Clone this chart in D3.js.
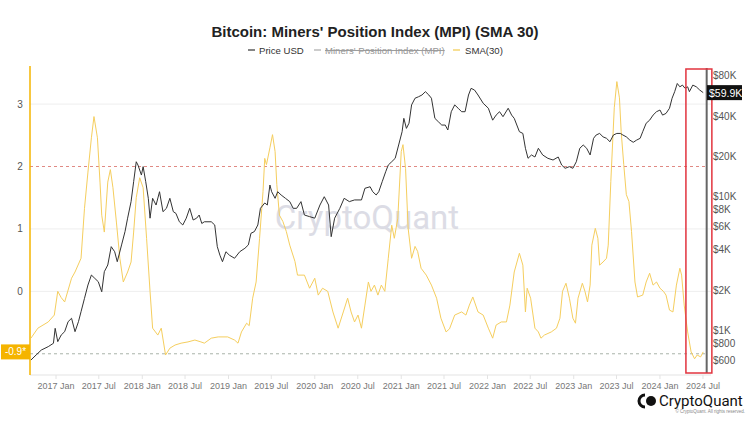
<!DOCTYPE html>
<html><head><meta charset="utf-8">
<script src="https://cdn.jsdelivr.net/npm/d3@7"></script>
<style>body{margin:0;background:#fff;} svg{display:block;font-family:"Liberation Sans",Arial,sans-serif;}</style>
</head><body><svg id="c" width="750" height="422"></svg>
<script>
const chartTitle = "Bitcoin: Miners' Position Index (MPI) (SMA 30)";
const legendLabels = ["Price USD", "Miners' Position Index (MPI)", "SMA(30)"];

// dates as decimal years
const priceDates = [2016.71,2016.77,2016.83,2016.91,2016.97,2016.99,2017.02,2017.06,2017.10,2017.14,2017.18,2017.22,2017.26,2017.29,2017.33,2017.37,2017.41,2017.45,2017.49,2017.53,2017.56,2017.60,2017.64,2017.68,2017.71,2017.76,2017.80,2017.83,2017.87,2017.90,2017.93,2017.95,2017.99,2018.01,2018.04,2018.07,2018.09,2018.12,2018.16,2018.20,2018.24,2018.28,2018.32,2018.36,2018.39,2018.43,2018.47,2018.51,2018.55,2018.59,2018.63,2018.66,2018.69,2018.72,2018.80,2018.84,2018.87,2018.90,2018.93,2018.97,2019.01,2019.07,2019.13,2019.19,2019.23,2019.26,2019.30,2019.34,2019.37,2019.42,2019.45,2019.48,2019.50,2019.54,2019.57,2019.61,2019.66,2019.71,2019.75,2019.79,2019.84,2019.88,2019.94,2020.00,2020.06,2020.11,2020.16,2020.19,2020.23,2020.29,2020.34,2020.40,2020.46,2020.54,2020.58,2020.64,2020.67,2020.71,2020.74,2020.78,2020.82,2020.85,2020.89,2020.93,2020.97,2021.01,2021.03,2021.06,2021.09,2021.12,2021.16,2021.20,2021.24,2021.28,2021.32,2021.35,2021.39,2021.43,2021.47,2021.51,2021.54,2021.58,2021.62,2021.66,2021.70,2021.74,2021.78,2021.81,2021.85,2021.89,2021.95,2022.01,2022.06,2022.10,2022.14,2022.18,2022.24,2022.28,2022.31,2022.37,2022.41,2022.44,2022.47,2022.51,2022.55,2022.59,2022.64,2022.70,2022.76,2022.82,2022.86,2022.90,2022.95,2022.99,2023.03,2023.07,2023.11,2023.15,2023.19,2023.23,2023.26,2023.30,2023.34,2023.38,2023.42,2023.46,2023.50,2023.54,2023.57,2023.61,2023.65,2023.69,2023.73,2023.77,2023.80,2023.84,2023.88,2023.92,2023.96,2024.00,2024.03,2024.07,2024.11,2024.14,2024.17,2024.20,2024.23,2024.26,2024.29,2024.32,2024.34,2024.38,2024.42,2024.46,2024.50];
const priceValues = [603,658,716,759,804,1040,827,927,982,1166,1236,982,1166,1384,1742,2190,2600,2455,2318,1950,2755,3091,4236,3883,3271,4365,5492,6913,9192,12950,18250,17250,14520,16770,12950,9730,6913,9730,8670,10900,7730,8190,9730,7730,7510,6500,6150,6913,8190,6700,6913,7300,6310,6500,6500,6150,4236,3660,3271,3883,3660,3470,3883,4120,4365,5330,5492,6150,8190,8980,8670,12230,10900,9730,10900,10300,9730,9192,8190,8190,9192,7300,7100,6913,8670,10000,8670,5030,6913,8190,9730,9192,9460,9460,11560,11870,10900,10300,10900,12950,15360,17250,18250,19360,24340,30600,38500,32400,35400,48500,54400,55800,57500,60900,57500,54400,38500,36300,34300,34300,31500,43150,48500,45800,43150,43150,57500,64500,62600,57500,49900,45800,37300,40700,43150,39600,45800,40700,38500,30600,29700,23000,19360,20500,19800,23000,20500,19360,18800,19800,17250,16300,16770,16300,18250,23000,24340,23000,20500,27300,28900,29700,28000,27300,25740,28900,29700,29700,28900,28000,26500,25500,26500,27300,30600,35400,37300,40700,43150,44400,40700,41900,45800,54400,60900,70100,66200,68200,64500,66200,60900,68200,66200,62600,59900];

const smaDates = [2016.71,2016.79,2016.91,2016.98,2017.02,2017.06,2017.10,2017.18,2017.22,2017.29,2017.33,2017.37,2017.41,2017.44,2017.48,2017.51,2017.53,2017.56,2017.60,2017.63,2017.66,2017.70,2017.74,2017.78,2017.83,2017.87,2017.90,2017.93,2017.97,2018.01,2018.05,2018.09,2018.12,2018.18,2018.22,2018.27,2018.32,2018.38,2018.45,2018.53,2018.61,2018.68,2018.72,2018.80,2018.88,2018.99,2019.07,2019.11,2019.15,2019.21,2019.24,2019.28,2019.32,2019.36,2019.40,2019.42,2019.44,2019.48,2019.51,2019.54,2019.56,2019.59,2019.63,2019.67,2019.71,2019.77,2019.80,2019.88,2019.94,2020.00,2020.04,2020.09,2020.15,2020.21,2020.27,2020.33,2020.38,2020.42,2020.46,2020.50,2020.54,2020.58,2020.62,2020.65,2020.69,2020.73,2020.77,2020.81,2020.85,2020.89,2020.92,2020.96,2021.00,2021.02,2021.05,2021.08,2021.12,2021.16,2021.19,2021.23,2021.29,2021.35,2021.41,2021.46,2021.52,2021.56,2021.62,2021.70,2021.75,2021.79,2021.83,2021.89,2021.95,2022.01,2022.06,2022.10,2022.16,2022.22,2022.26,2022.31,2022.37,2022.41,2022.44,2022.46,2022.50,2022.55,2022.59,2022.62,2022.66,2022.74,2022.80,2022.84,2022.87,2022.91,2022.95,2022.99,2023.02,2023.05,2023.10,2023.13,2023.16,2023.19,2023.21,2023.25,2023.28,2023.30,2023.34,2023.38,2023.40,2023.43,2023.47,2023.50,2023.53,2023.55,2023.58,2023.61,2023.64,2023.67,2023.71,2023.74,2023.80,2023.84,2023.88,2023.92,2023.96,2024.00,2024.04,2024.07,2024.11,2024.15,2024.19,2024.23,2024.25,2024.28,2024.32,2024.36,2024.40,2024.43,2024.47,2024.50];
const smaValues = [-0.75,-0.59,-0.49,-0.38,0.0,-0.1,-0.17,0.21,0.31,0.53,1.33,1.91,2.46,2.8,2.46,1.75,1.22,0.95,1.75,1.95,1.66,1.11,0.53,0.15,0.31,0.47,0.95,1.5,1.82,1.66,0.85,0.0,-0.59,-0.7,-0.59,-1.02,-0.91,-0.86,-0.83,-0.81,-0.78,-0.81,-0.83,-0.75,-0.73,-0.73,-0.78,-0.83,-0.65,-0.51,-0.55,-0.11,0.15,0.85,1.6,2.13,2.03,2.3,2.51,2.24,1.71,1.22,1.12,0.96,0.74,0.48,0.26,0.26,0.05,0.21,-0.06,0.05,0.0,-0.33,-0.59,-0.33,-0.11,-0.33,-0.49,-0.38,-0.59,-0.22,0.15,0.0,0.1,-0.06,0.1,0.0,0.53,1.06,0.85,1.17,2.24,2.35,1.97,1.01,0.53,0.72,0.64,0.37,0.26,0.1,-0.11,-0.43,-0.65,-0.6,-0.38,-0.33,-0.38,-0.22,-0.09,-0.33,-0.38,-0.59,-0.75,-0.54,-0.49,-0.49,-0.22,0.31,0.61,0.42,-0.33,0.05,-0.11,-0.59,-0.65,-0.75,-0.7,-0.65,-0.59,-0.43,0.0,0.13,-0.11,-0.43,-0.51,-0.11,0.13,0.0,-0.17,0.1,0.74,1.01,0.85,0.42,0.47,0.53,0.74,1.76,2.94,3.36,3.1,2.56,2.03,1.55,1.44,0.96,0.15,-0.09,-0.06,0.15,0.29,0.1,0.15,0.05,0.0,-0.06,-0.3,-0.33,0.1,0.37,0.26,-0.22,-0.65,-0.97,-1.08,-1.02,-1.05,-0.97];

const leftTicks = [0, 1, 2, 3];
const rightTicks = [600, 800, 1000, 2000, 4000, 6000, 8000, 10000, 20000, 40000, 80000];
const rightTickLabels = ["$600","$800","$1K","$2K","$4K","$6K","$8K","$10K","$20K","$40K","$80K"];
const thresholdHigh = 2, thresholdLow = -1;
const lastSmaLabel = "-0.9*";
const lastPriceLabel = "$59.9K";
const highlightRange = [2024.30, 2024.60];
const currentMarker = 2024.54;

function toDate(t){ const y = Math.floor(t); const s = new Date(y,0,1), e = new Date(y+1,0,1); return new Date(+s + (t-y)*(e-s)); }

const svg = d3.select("#c");
const L = 30, R = 711, T = 66, B = 375;

const x = d3.scaleTime().domain([toDate(2016.699), toDate(2024.59)]).range([L, R]);
const yL = d3.scaleLinear().domain([-1.34, 3.61]).range([B, T]);
const yR = d3.scaleLog().domain([466, 94700]).range([B, T]);

// title
svg.append("text").attr("x", 375).attr("y", 37).attr("text-anchor", "middle")
  .attr("font-size", 15).attr("font-weight", "bold").attr("fill", "#222").text(chartTitle);

// legend
const legendPos = [{lx:248, tx:259, c:"#333", tc:"#333"}, {lx:314, tx:325, c:"#aaa", tc:"#999"}, {lx:453, tx:465, c:"#F2C94C", tc:"#333"}];
legendLabels.forEach((lab, i) => {
  const p = legendPos[i];
  svg.append("line").attr("x1", p.lx).attr("x2", p.lx+7).attr("y1", 50).attr("y2", 50).attr("stroke", p.c).attr("stroke-width", 1.2);
  const t = svg.append("text").attr("x", p.tx).attr("y", 53.5).attr("font-size", 9.6).attr("fill", p.tc).text(lab);
  if (i === 1) t.attr("text-decoration", "line-through");
});

// gridlines
svg.append("g").selectAll("line").data(leftTicks.filter(d => d !== thresholdHigh)).join("line")
  .attr("x1", L).attr("x2", R).attr("y1", d => yL(d)).attr("y2", d => yL(d))
  .attr("stroke", "#eeeeee").attr("stroke-width", 1);
// bottom axis line
svg.append("line").attr("x1", L).attr("x2", R).attr("y1", B).attr("y2", B).attr("stroke", "#e3e3e3");

// threshold dashed lines
svg.append("line").attr("x1", L).attr("x2", R-4).attr("y1", yL(thresholdHigh)).attr("y2", yL(thresholdHigh))
  .attr("stroke", "#e08a84").attr("stroke-dasharray", "3,3").attr("stroke-width", 1);
svg.append("line").attr("x1", L).attr("x2", R-4).attr("y1", yL(thresholdLow)).attr("y2", yL(thresholdLow))
  .attr("stroke", "#a9b3a9").attr("stroke-dasharray", "3,3").attr("stroke-width", 1);

// watermark
svg.append("text").attr("x", 367).attr("y", 229).attr("text-anchor", "middle").attr("font-family", "Roboto, 'Open Sans', sans-serif")
  .attr("font-size", 33).attr("fill", "#d6d7e1").attr("opacity", 0.85).text("CryptoQuant");

// x axis labels
const xt = x.ticks(d3.timeMonth.every(6)).filter(d => d >= new Date(2017,0,1));
const xg = svg.append("g");
xg.selectAll("line").data(xt).join("line").attr("x1", d => x(d)).attr("x2", d => x(d)).attr("y1", B).attr("y2", B+4).attr("stroke", "#e3e3e3");
xg.selectAll("text").data(xt).join("text").attr("x", d => x(d)).attr("y", 389).attr("text-anchor", "middle")
  .attr("font-size", 9).attr("fill", "#777").text(d => d3.timeFormat("%Y %b")(d));

// left axis
svg.append("line").attr("x1", L).attr("x2", L).attr("y1", T).attr("y2", B).attr("stroke", "#F5B400").attr("stroke-width", 1.5);
svg.append("g").selectAll("text").data(leftTicks).join("text").attr("x", 20).attr("y", d => yL(d) + 3.5)
  .attr("text-anchor", "middle").attr("font-size", 10).attr("fill", "#555").text(d => d);

// right axis labels
svg.append("g").selectAll("text").data(rightTicks).join("text").attr("x", 713).attr("y", d => yR(d) + 3.5)
  .attr("font-size", 10).attr("fill", "#555").text((d, i) => rightTickLabels[i]);

// clip
svg.append("clipPath").attr("id", "clip").append("rect").attr("x", L).attr("y", T).attr("width", R - L).attr("height", B - T);

const smaData = smaDates.map((t, i) => ({d: toDate(t), v: smaValues[i]}));
const priceData = priceDates.map((t, i) => ({d: toDate(t), v: priceValues[i]}));

svg.append("path").datum(smaData).attr("clip-path", "url(#clip)")
  .attr("d", d3.line().x(d => x(d.d)).y(d => yL(d.v)))
  .attr("fill", "none").attr("stroke", "#F5CE5E").attr("stroke-width", 1);
svg.append("path").datum(priceData).attr("clip-path", "url(#clip)")
  .attr("d", d3.line().x(d => x(d.d)).y(d => yR(d.v)))
  .attr("fill", "none").attr("stroke", "#333").attr("stroke-width", 1);

// current marker line
svg.append("line").attr("x1", x(toDate(currentMarker))).attr("x2", x(toDate(currentMarker))).attr("y1", T+2).attr("y2", B-2)
  .attr("stroke", "#666").attr("stroke-width", 2);

// red highlight box
svg.append("rect").attr("x", x(toDate(highlightRange[0]))).attr("y", T + 3)
  .attr("width", x(toDate(highlightRange[1])) - x(toDate(highlightRange[0]))).attr("height", B - T - 5)
  .attr("fill", "none").attr("stroke", "#e2343f").attr("stroke-width", 1.5);

// last price label
const lp = priceValues[priceValues.length - 1];
svg.append("rect").attr("x", 707).attr("y", yR(lp) - 7.5).attr("width", 35).attr("height", 15).attr("fill", "#111");
svg.append("text").attr("x", 709).attr("y", yR(lp) + 4).attr("font-size", 10.5).attr("fill", "#fff").text(lastPriceLabel);

// last sma label
const ls = smaValues[smaValues.length - 1];
svg.append("rect").attr("x", 1).attr("y", yL(ls) - 7.5).attr("width", 29).attr("height", 15).attr("fill", "#F5B400");
svg.append("text").attr("x", 15.5).attr("y", yL(ls) + 3.5).attr("text-anchor", "middle").attr("font-size", 10).attr("fill", "#fff").text(lastSmaLabel);

// bottom-right logo
const lg = svg.append("g");
lg.append("path").attr("d", "M645,395 A6,6 0 0,0 645,407").attr("fill", "none").attr("stroke", "#111").attr("stroke-width", 3);
lg.append("circle").attr("cx", 651).attr("cy", 401).attr("r", 5).attr("fill", "#111");
lg.append("text").attr("x", 659).attr("y", 406).attr("font-family", "Roboto, sans-serif").attr("font-size", 15).attr("fill", "#111").text("CryptoQuant");
lg.append("text").attr("x", 745).attr("y", 413).attr("text-anchor", "end").attr("font-size", 4.5).attr("fill", "#888").text("© CryptoQuant. All rights reserved.");
</script></body></html>
